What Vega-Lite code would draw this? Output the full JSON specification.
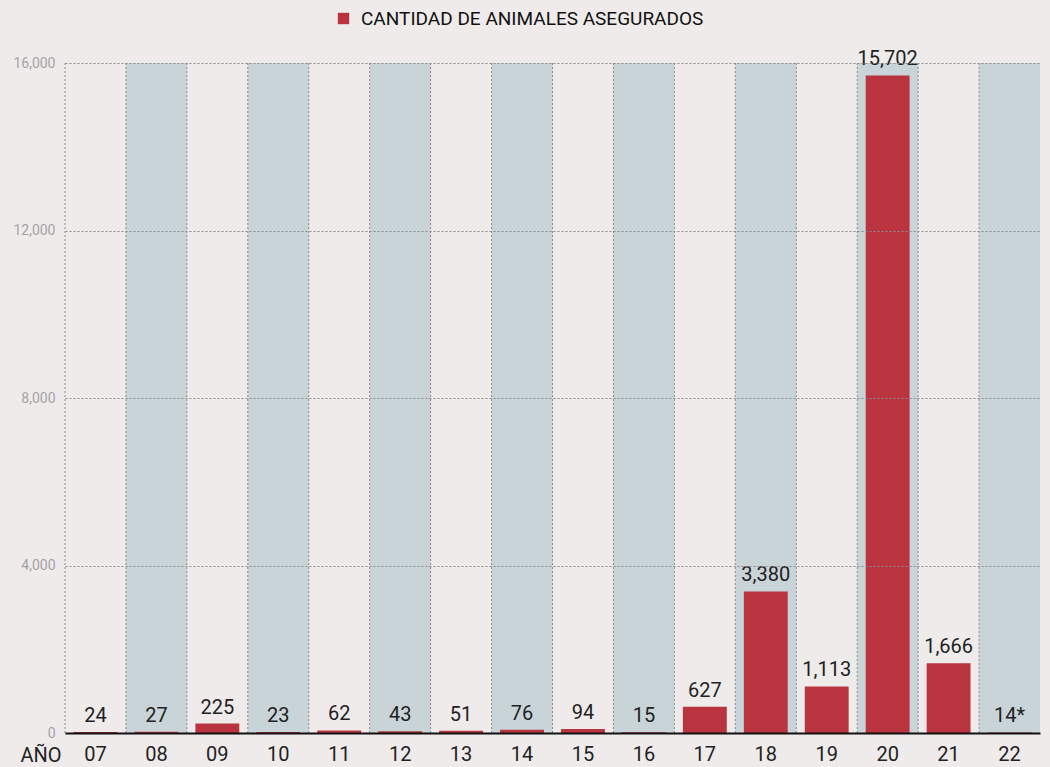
{
  "$schema": "https://vega.github.io/schema/vega-lite/v6.json",
  "autosize": {"type": "none"},
  "padding": {"left": 65, "top": 63, "right": 10, "bottom": 34},
  "width": 975,
  "height": 670,
  "background": "#efebeb",
  "config": {"view": {"stroke": null}, "font": "Roboto"},
  "data": {
    "values": [
      {"year": "07", "value": 24, "label": "24"},
      {"year": "08", "value": 27, "label": "27"},
      {"year": "09", "value": 225, "label": "225"},
      {"year": "10", "value": 23, "label": "23"},
      {"year": "11", "value": 62, "label": "62"},
      {"year": "12", "value": 43, "label": "43"},
      {"year": "13", "value": 51, "label": "51"},
      {"year": "14", "value": 76, "label": "76"},
      {"year": "15", "value": 94, "label": "94"},
      {"year": "16", "value": 15, "label": "15"},
      {"year": "17", "value": 627, "label": "627"},
      {"year": "18", "value": 3380, "label": "3,380"},
      {"year": "19", "value": 1113, "label": "1,113"},
      {"year": "20", "value": 15702, "label": "15,702"},
      {"year": "21", "value": 1666, "label": "1,666"},
      {"year": "22", "value": 14, "label": "14*"}
    ]
  },
  "encoding": {
    "x": {
      "field": "year",
      "type": "ordinal",
      "scale": {"paddingInner": 0, "paddingOuter": 0},
      "axis": {
        "title": "AÑO",
        "titleFont": "Roboto",
        "titleFontSize": 20,
        "titleFontWeight": "normal",
        "titleColor": "#222",
        "titleAnchor": "start",
        "titleAlign": "left",
        "titleBaseline": "alphabetic",
        "titleX": -45,
        "titleY": 28,
        "labelAngle": 0,
        "labelFontSize": 20,
        "labelColor": "#222",
        "labelPadding": 11,
        "ticks": false,
        "domainColor": "#111",
        "domainWidth": 2,
        "zindex": 1
      }
    }
  },
  "layer": [
    {
      "transform": [{"filter": "toNumber(datum.year) % 2 == 0"}],
      "mark": {"type": "rect", "color": "#c8d4d8"},
      "encoding": {
        "y": {"datum": 16000, "type": "quantitative"},
        "y2": {"datum": 0}
      }
    },
    {
      "mark": {"type": "rule", "color": "#8a8a8a", "strokeDash": [2, 2], "strokeWidth": 1},
      "encoding": {
        "x": {"field": "year", "type": "ordinal", "bandPosition": 0},
        "y": {"datum": 16000, "type": "quantitative"},
        "y2": {"datum": 0}
      }
    },
    {
      "mark": {"type": "bar", "width": {"band": 0.72}},
      "encoding": {
        "y": {
          "field": "value",
          "type": "quantitative",
          "scale": {"domain": [0, 16000], "nice": false},
          "axis": {
            "title": null,
            "values": [0, 4000, 8000, 12000, 16000],
            "format": ",d",
            "labelFontSize": 14,
            "labelColor": "#a3a3a3",
            "labelPadding": 10,
            "ticks": false,
            "domain": false,
            "grid": true,
            "gridColor": "#8a8a8a",
            "gridDash": [2, 2],
            "gridWidth": 1,
            "zindex": 1
          }
        },
        "color": {
          "datum": "CANTIDAD DE ANIMALES ASEGURADOS",
          "type": "nominal",
          "scale": {"range": ["#b9343f"]},
          "legend": {
            "title": null,
            "orient": "none",
            "legendX": 269,
            "legendY": -54,
            "symbolType": "square",
            "symbolSize": 130,
            "symbolStrokeWidth": 0,
            "labelFontSize": 19,
            "labelColor": "#111",
            "labelFont": "Roboto",
            "labelLimit": 0,
            "labelOffset": 8
          }
        }
      }
    },
    {
      "mark": {"type": "text", "baseline": "alphabetic", "dy": -10, "fontSize": 20, "color": "#222", "font": "Roboto"},
      "encoding": {
        "y": {"field": "value", "type": "quantitative"},
        "text": {"field": "label"}
      }
    }
  ]
}
